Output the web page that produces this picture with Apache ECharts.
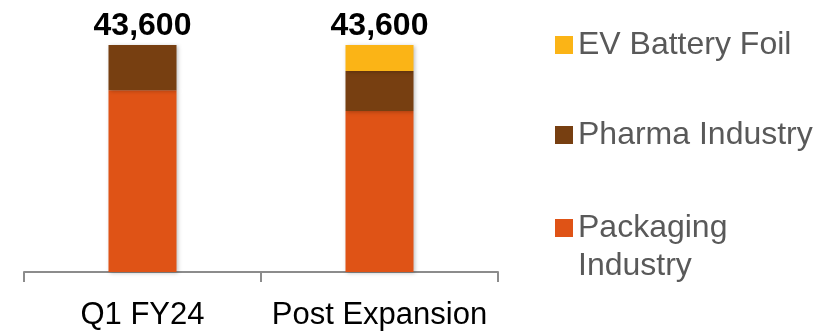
<!DOCTYPE html>
<html>
<head>
<meta charset="utf-8">
<script src="https://cdn.jsdelivr.net/npm/echarts@6/dist/echarts.min.js"></script>
<style>
  html, body { margin: 0; padding: 0; background: #fff; }
  #chart { width: 820px; height: 331px; }
</style>
</head>
<body>
<div id="chart"></div>
<script>
// Capacity mix by end-use segment (tonnes)
const categories = ['Q1 FY24', 'Post Expansion'];
const packaging = [34900, 30900];
const pharma = [8700, 7700];
const evFoil = [0, 5000];
const seriesNames = ['Packaging Industry', 'Pharma Industry', 'EV Battery Foil'];
const colors = ['#DF5316', '#773F11', '#FBB416'];

const totals = categories.map((_, i) => packaging[i] + pharma[i] + evFoil[i]);
const fmt = v => v.toLocaleString('en-US');

const FONT = '"Liberation Sans", Arial, sans-serif';
const barShadow = { shadowBlur: 4, shadowColor: 'rgba(0,0,0,0.25)', shadowOffsetX: 1, shadowOffsetY: 1 };

function legendFor(name, top, formatter) {
  const lg = {
    orient: 'vertical',
    left: 550,
    top: top,
    data: [name],
    itemWidth: 18,
    itemHeight: 18,
    itemGap: 0,
    icon: 'rect',
    selectedMode: false,
    textStyle: {
      fontFamily: FONT,
      fontSize: 32,
      lineHeight: 38,
      color: '#595959',
      padding: [0, 0, 0, 0]
    }
  };
  if (formatter) lg.formatter = formatter;
  return lg;
}

const chart = echarts.init(document.getElementById('chart'), null, { renderer: 'canvas' });
chart.setOption({
  animation: false,
  backgroundColor: '#ffffff',
  grid: { left: 24, right: 322, top: 45, bottom: 59, containLabel: false },
  legend: [
    legendFor(seriesNames[2], 21),
    legendFor(seriesNames[1], 111),
    // two-line label whose first line sits beside the swatch
    legendFor(seriesNames[0], 166, () => '\u00a0\nPackaging\nIndustry')
  ],
  xAxis: {
    type: 'category',
    data: categories,
    axisLine: { lineStyle: { color: '#8c8c8c', width: 2 } },
    axisTick: { show: true, alignWithLabel: false, interval: 0, length: 10, lineStyle: { color: '#8c8c8c', width: 2 } },
    axisLabel: { interval: 0, fontFamily: FONT, fontSize: 31, color: '#000', margin: 28 }
  },
  yAxis: {
    type: 'value',
    min: 0,
    max: 43600,
    show: false,
    splitLine: { show: false }
  },
  series: [
    {
      name: seriesNames[0], type: 'bar', stack: 'cap', data: packaging,
      barWidth: 68, itemStyle: Object.assign({ color: colors[0] }, barShadow)
    },
    {
      name: seriesNames[1], type: 'bar', stack: 'cap', data: pharma,
      barWidth: 68, itemStyle: Object.assign({ color: colors[1] }, barShadow)
    },
    {
      name: seriesNames[2], type: 'bar', stack: 'cap', data: evFoil,
      barWidth: 68, itemStyle: Object.assign({ color: colors[2] }, barShadow),
      label: {
        show: true,
        position: 'top',
        distance: 3,
        fontFamily: FONT,
        fontSize: 32,
        fontWeight: 'bold',
        color: '#000',
        formatter: p => fmt(totals[p.dataIndex])
      }
    }
  ]
});
</script>
</body>
</html>
